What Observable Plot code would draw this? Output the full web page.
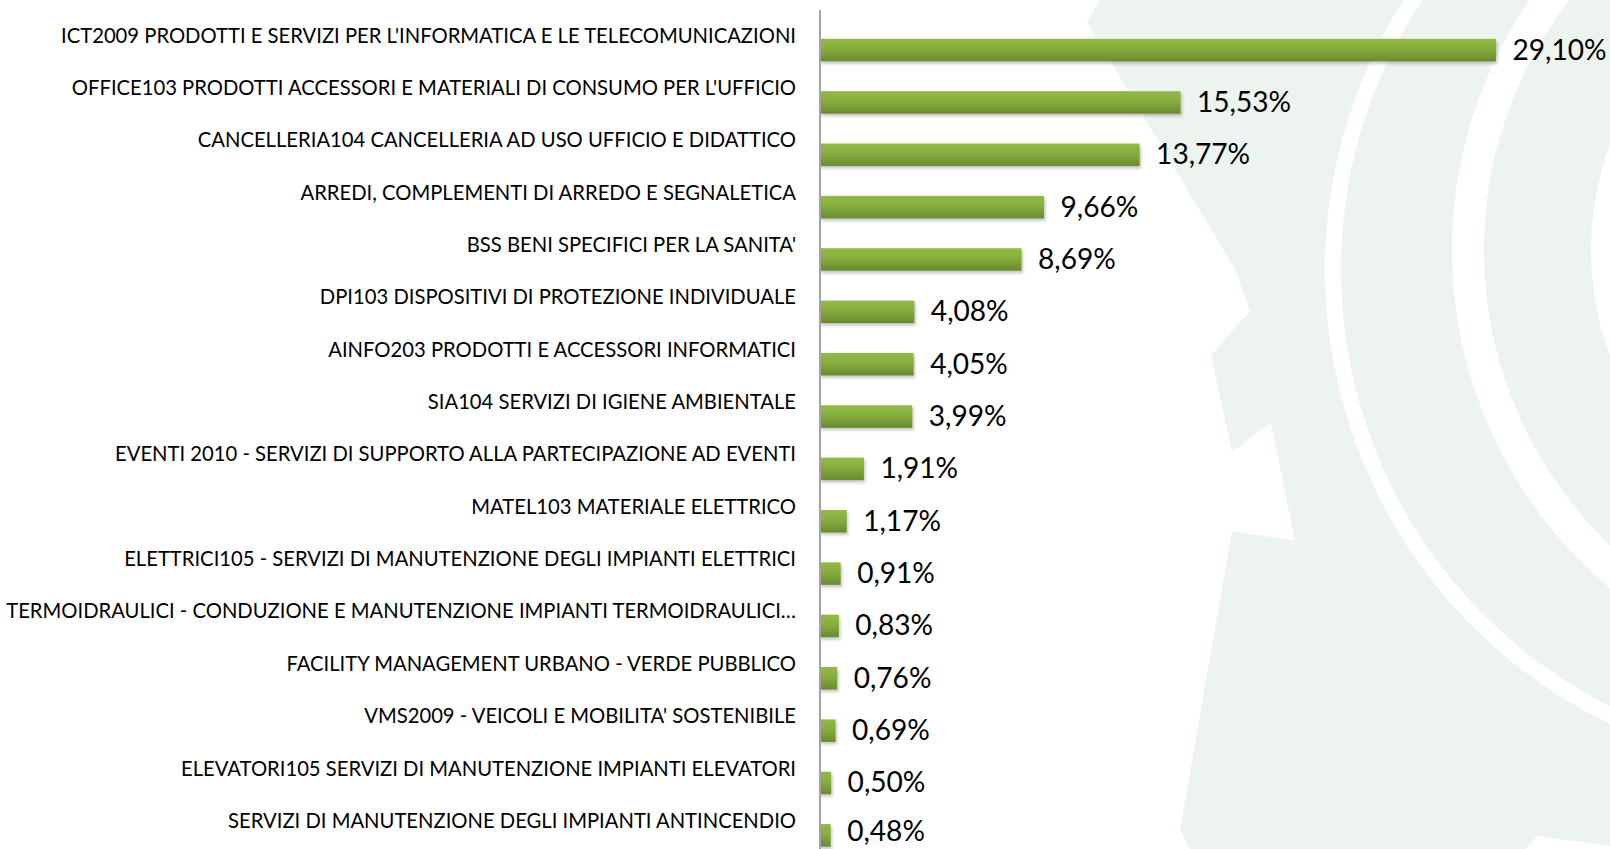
<!DOCTYPE html>
<html>
<head>
<meta charset="utf-8">
<script src="https://cdn.jsdelivr.net/npm/d3@7"></script>
<script src="https://cdn.jsdelivr.net/npm/@observablehq/plot@0.6"></script>
<style>
  html, body { margin: 0; padding: 0; background: #fff; overflow: hidden; }
  #chart { width: 1610px; height: 849px; }
</style>
</head>
<body>
<div id="chart"></div>
<script>
const categories = [
  "ICT2009 PRODOTTI E SERVIZI PER L'INFORMATICA E LE TELECOMUNICAZIONI",
  "OFFICE103 PRODOTTI ACCESSORI E MATERIALI DI CONSUMO PER L'UFFICIO",
  "CANCELLERIA104 CANCELLERIA AD USO UFFICIO E DIDATTICO",
  "ARREDI, COMPLEMENTI DI ARREDO E SEGNALETICA",
  "BSS BENI SPECIFICI PER LA SANITA'",
  "DPI103 DISPOSITIVI DI PROTEZIONE INDIVIDUALE",
  "AINFO203 PRODOTTI E ACCESSORI INFORMATICI",
  "SIA104 SERVIZI DI IGIENE AMBIENTALE",
  "EVENTI 2010 - SERVIZI DI SUPPORTO ALLA PARTECIPAZIONE AD EVENTI",
  "MATEL103 MATERIALE ELETTRICO",
  "ELETTRICI105 - SERVIZI DI MANUTENZIONE DEGLI IMPIANTI ELETTRICI",
  "TERMOIDRAULICI - CONDUZIONE E MANUTENZIONE IMPIANTI TERMOIDRAULICI…",
  "FACILITY MANAGEMENT URBANO - VERDE PUBBLICO",
  "VMS2009 - VEICOLI E MOBILITA' SOSTENIBILE",
  "ELEVATORI105 SERVIZI DI MANUTENZIONE IMPIANTI ELEVATORI",
  "SERVIZI DI MANUTENZIONE DEGLI IMPIANTI ANTINCENDIO"
];
const values = [29.10, 15.53, 13.77, 9.66, 8.69, 4.08, 4.05, 3.99, 1.91, 1.17, 0.91, 0.83, 0.76, 0.69, 0.50, 0.48];

const data = categories.map((c, i) => ({category: c, value: values[i]}));
const fmt = v => d3.format(".2f")(v).replace(".", ",") + "%";

const plot = Plot.plot({
  width: 1610,
  height: 849,
  marginLeft: 819.5,
  marginRight: 0,
  marginTop: 10,
  marginBottom: 0,
  style: {fontFamily: "Lato, 'Open Sans', sans-serif", background: "transparent", color: "#000"},
  x: {domain: [0, 29.1], range: [819.5, 1496], axis: null},
  y: {domain: categories, range: [23.9, 861.5], paddingInner: 0.57, paddingOuter: 0.285, round: false, axis: null},
  marks: [
    Plot.barX(data, {x: "value", y: "category", fill: "#000", fillOpacity: 0.22, dx: 1.5, dy: 2.5}),
    Plot.barX(data, {x: "value", y: "category", fill: "url(#barGrad)"}),
    Plot.ruleX([0], {stroke: "#a3a3a3", strokeWidth: 2}),
    Plot.text(data, {x: () => 0, y: "category", text: "category", textAnchor: "end", dx: -24, dy: -14.5, fontSize: 20.5, fill: "#000"}),
    Plot.text(data, {x: "value", y: "category", text: d => fmt(d.value), textAnchor: "start", dx: 16, dy: 0, fontSize: 28, fill: "#000"})
  ]
});

document.getElementById("chart").appendChild(plot);

// defs: gradient + blur, and decorative watermark background
const ns = "http://www.w3.org/2000/svg";
const defs = document.createElementNS(ns, "defs");
defs.innerHTML = `
  <linearGradient id="barGrad" x1="0" y1="0" x2="0" y2="1">
    <stop offset="0%" stop-color="#93b948"/>
    <stop offset="45%" stop-color="#87ad3e"/>
    <stop offset="100%" stop-color="#688a2e"/>
  </linearGradient>
  <filter id="shadowBlur" x="-10%" y="-50%" width="120%" height="200%">
    <feGaussianBlur stdDeviation="1.6"/>
  </filter>`;
const bg = document.createElementNS(ns, "g");
bg.innerHTML = `
  <polygon fill="#edf3ef" points="1100,0 1087,22 1236,271 1250,311 1211,355 1232,452 1271,422 1295,541 1232,531 1180,830 1190,849 1610,849 1610,0"/>
  <circle cx="1829" cy="270" r="496" fill="none" stroke="#ffffff" stroke-width="16"/>
  <circle cx="1893" cy="250" r="425" fill="none" stroke="#ffffff" stroke-width="32"/>
  <circle cx="1893" cy="250" r="292" fill="none" stroke="#ffffff" stroke-width="20"/>
  <polygon fill="#ffffff" points="1525,849 1537,836 1610,846 1610,849"/>`;
plot.insertBefore(bg, plot.firstChild);
plot.insertBefore(defs, plot.firstChild);

const barGroups = plot.querySelectorAll("g[aria-label='bar']");
if (barGroups.length) barGroups[0].setAttribute("filter", "url(#shadowBlur)");

// horizontal condensing to mimic the narrow original typeface
const textGroups = plot.querySelectorAll("g[aria-label='text']");
function condense(group, refs, maxW) {
  if (!group) return;
  const ts = Array.from(group.querySelectorAll("text"));
  const ks = refs.map(([i, target]) => target / ts[i].getComputedTextLength());
  let k = ks.reduce((a, b) => a + b, 0) / ks.length;
  if (maxW) {
    const widest = Math.max(...ts.map(t => t.getComputedTextLength()));
    k = Math.min(k, maxW / widest);
  }
  ts.forEach(t => {
    const w = t.getComputedTextLength();
    t.setAttribute("textLength", (w * k).toFixed(2));
    t.setAttribute("lengthAdjust", "spacingAndGlyphs");
  });
}
condense(textGroups[0], [[0, 745], [11, 779]], 790);
condense(textGroups[1], [[0, 94]]);

// keep the lowest value label fully inside the picture (nudge it up slightly)
if (textGroups[1]) {
  const vt = textGroups[1].querySelectorAll("text");
  const last = vt[vt.length - 1];
  const r = last.getBoundingClientRect();
  const svgR = plot.getBoundingClientRect();
  const bottomLimit = svgR.top + 849 - 0.62 * 28;
  const center = (r.top + r.bottom) / 2;
  const shift = Math.max(4, center - bottomLimit);
  const tr = last.getAttribute("transform") || "";
  last.setAttribute("transform", `translate(0,${(-shift).toFixed(2)}) ${tr}`);
}
</script>
</body>
</html>
